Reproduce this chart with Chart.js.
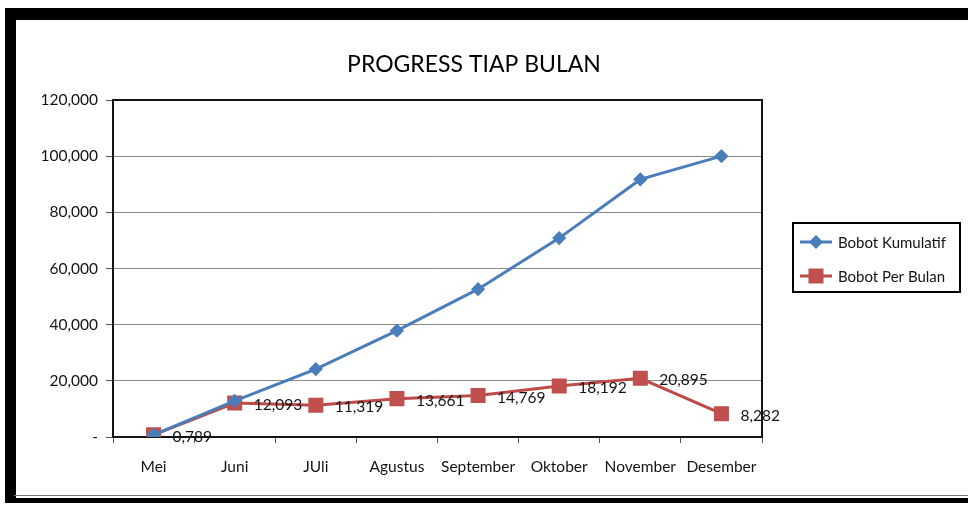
<!DOCTYPE html>
<html>
<head>
<meta charset="utf-8">
<title>Progress Tiap Bulan</title>
<script src="https://cdn.jsdelivr.net/npm/chart.js@4.4.1/dist/chart.umd.min.js"></script>
<style>
  html, body { margin: 0; padding: 0; background: #fff; }
  #wrap { position: relative; width: 968px; height: 505px; overflow: hidden; }
  .frame { position: absolute; background: #000; }
  canvas { position: absolute; left: 0; top: 0; }
</style>
</head>
<body>
<div id="wrap">
  <!-- black sheet frame around the chart -->
  <div class="frame" style="left:5px; top:8px; width:963px; height:12px;"></div>
  <div class="frame" style="left:5px; top:8px; width:11px; height:493px;"></div>
  <div class="frame" style="left:14px; top:495px; width:954px; height:1px; background:#777;"></div>
  <div class="frame" style="left:5px; top:498px; width:963px; height:5px;"></div>
  <canvas id="progressChart" width="968" height="505"></canvas>
</div>
<script>
// data
const months = ['Mei', 'Juni', 'JUli', 'Agustus', 'September', 'Oktober', 'November', 'Desember'];
const bobotKumulatif = [0.789, 12.882, 24.201, 37.862, 52.631, 70.823, 91.718, 100.000];
const bobotPerBulan = [0.789, 12.093, 11.319, 13.661, 14.769, 18.192, 20.895, 8.282];
const yTicks = [0, 20, 40, 60, 80, 100, 120];

const FONT = 'Lato, "Open Sans", sans-serif';
const TEXT = '#141414';

// 12.093 -> "12,093", 0 -> "-"
function fmt(v) {
  if (v === 0) return '-';
  return v.toFixed(3).replace('.', ',');
}

// title, plot frame, data labels and legend box
const excelLook = {
  id: 'excelLook',
  beforeDatasetsDraw(chart) {
    const { ctx, chartArea: a } = chart;
    ctx.save();
    ctx.strokeStyle = '#141414';
    ctx.lineWidth = 2;
    ctx.strokeRect(a.left, a.top, a.right - a.left, a.bottom - a.top);
    ctx.restore();
  },
  afterDatasetsDraw(chart) {
    const { ctx } = chart;
    // data labels of the monthly series, to the right of each point
    const meta = chart.getDatasetMeta(1);
    ctx.save();
    ctx.font = '15.5px ' + FONT;
    ctx.fillStyle = TEXT;
    ctx.textAlign = 'left';
    ctx.textBaseline = 'middle';
    meta.data.forEach((pt, i) => {
      ctx.fillText(fmt(bobotPerBulan[i]), pt.x + 19, pt.y + 2);
    });
    ctx.restore();
  },
  afterDraw(chart) {
    const { ctx, chartArea: a } = chart;
    ctx.save();
    // title
    ctx.font = '23px ' + FONT;
    ctx.fillStyle = '#000';
    ctx.textAlign = 'center';
    ctx.textBaseline = 'middle';
    ctx.fillText('PROGRESS TIAP BULAN', 474, 65);

    // legend
    const lx = a.right + 31, ly = 223, lw = 167, lh = 69;
    ctx.strokeStyle = '#000';
    ctx.lineWidth = 2;
    ctx.strokeRect(lx, ly, lw, lh);
    ctx.font = '15px ' + FONT;
    ctx.textAlign = 'left';
    ctx.textBaseline = 'middle';
    chart.data.datasets.forEach((ds, i) => {
      const y = ly + 19 + i * 34;
      ctx.strokeStyle = ds.borderColor;
      ctx.lineWidth = 3;
      ctx.beginPath();
      ctx.moveTo(lx + 7, y);
      ctx.lineTo(lx + 39, y);
      ctx.stroke();
      ctx.fillStyle = ds.pointBackgroundColor;
      ctx.strokeStyle = ds.pointBorderColor;
      Chart.helpers.drawPoint(ctx, {
        pointStyle: ds.pointStyle, radius: ds.pointRadius, rotation: 0, borderWidth: 1
      }, lx + 23, y);
      ctx.fillStyle = TEXT;
      ctx.fillText(ds.label, lx + 45, y + 1);
    });
    ctx.restore();
  }
};

new Chart(document.getElementById('progressChart'), {
  type: 'line',
  data: {
    labels: months,
    datasets: [{
      label: 'Bobot Kumulatif',
      data: bobotKumulatif,
      borderColor: '#4A7EBB',
      borderWidth: 3,
      pointStyle: 'rectRot',
      pointRadius: 5,
      pointBackgroundColor: '#4A7EBB',
      pointBorderColor: '#4A7EBB',
      tension: 0
    }, {
      label: 'Bobot Per Bulan',
      data: bobotPerBulan,
      borderColor: '#BE4B48',
      borderWidth: 3,
      pointStyle: 'rect',
      pointRadius: 8.5,
      pointBackgroundColor: '#C0504D',
      pointBorderColor: '#C0504D',
      tension: 0
    }]
  },
  options: {
    responsive: false,
    animation: false,
    layout: {
      autoPadding: false,
      padding: { left: 0, top: 100, right: 206, bottom: 28 }
    },
    plugins: {
      legend: { display: false },
      title: { display: false },
      tooltip: { enabled: false }
    },
    scales: {
      x: {
        offset: true,
        grid: {
          offset: true,
          drawOnChartArea: false,
          tickLength: 6,
          tickColor: '#555'
        },
        border: { display: false },
        ticks: {
          padding: 15,
          color: TEXT,
          font: { family: FONT, size: 15.5 },
          maxRotation: 0,
          autoSkip: false
        },
        afterFit(scale) { scale.height = 40; }
      },
      y: {
        min: 0,
        max: 120,
        afterBuildTicks(scale) {
          scale.ticks = yTicks.map(v => ({ value: v }));
        },
        grid: {
          color: '#8a8a8a',
          lineWidth: 1,
          tickLength: 7,
          tickColor: '#555'
        },
        border: { display: false },
        ticks: {
          padding: 8,
          color: TEXT,
          font: { family: FONT, size: 15.5 },
          callback: v => fmt(v)
        },
        afterFit(scale) { scale.width = 113; }
      }
    }
  },
  plugins: [excelLook]
});
</script>
</body>
</html>
